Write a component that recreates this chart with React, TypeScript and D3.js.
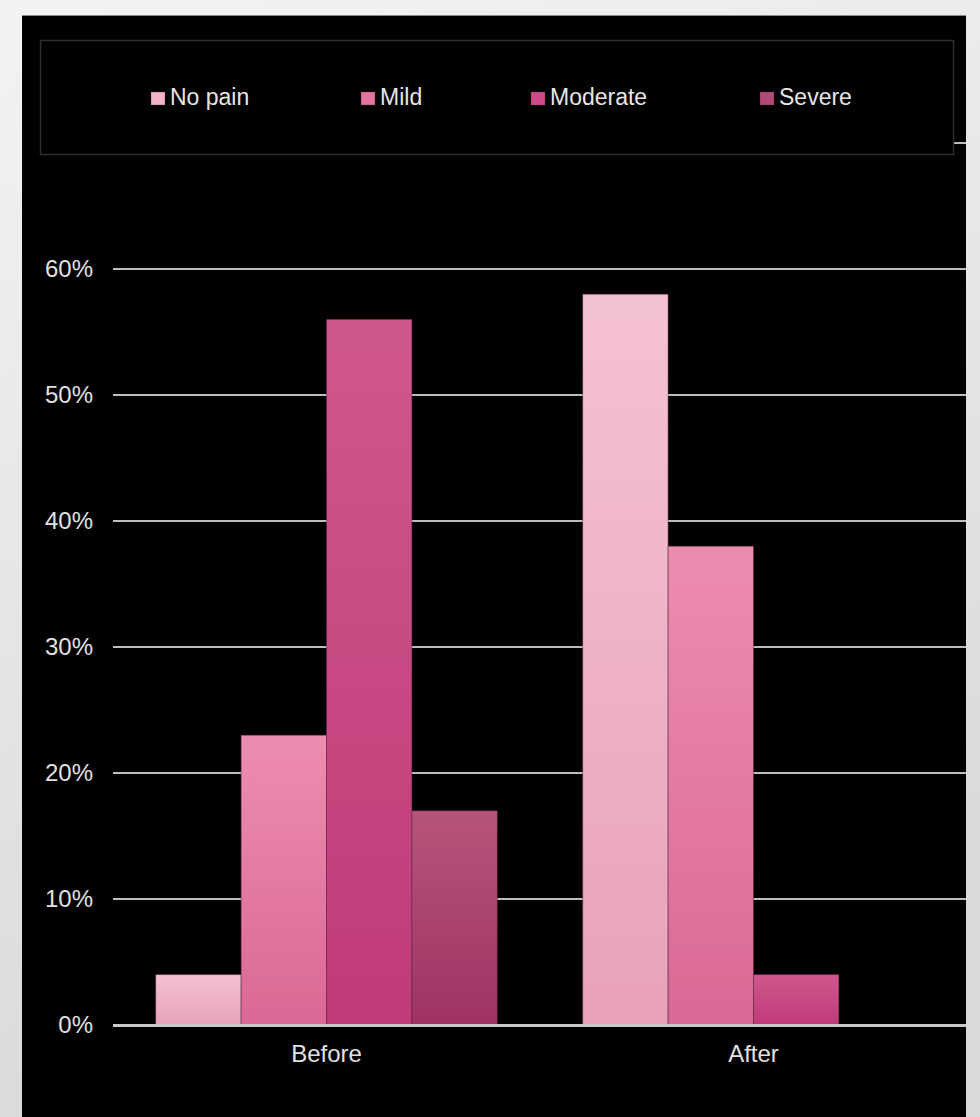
import React from "react";
import * as d3 from "d3";

const categories = ["Before", "After"];
const series = ["No pain", "Mild", "Moderate", "Severe"];
const values: number[][] = [
  [0.04, 0.23, 0.56, 0.17],
  [0.58, 0.38, 0.04, 0],
];
const yTicks = [0, 0.1, 0.2, 0.3, 0.4, 0.5, 0.6, 0.7];
const barTop = ["#f5c2d4", "#ec8db0", "#d0578e", "#b6557b"];
const barBottom = ["#e8a2b9", "#db6896", "#bf3b77", "#9e3264"];
const swatch = ["#f0b3c9", "#e2739f", "#cf4a88", "#b24a79"];

const W = 980;
const H = 1117;

export default function App() {
  const y = d3.scaleLinear().domain([0, 0.7]).range([1025, 143]);
  const x0 = d3.scaleBand().domain(categories).range([113, 967]).paddingInner(0).paddingOuter(0);
  const x1 = d3.scaleBand().domain(series).range([0, x0.bandwidth()]).paddingInner(0).paddingOuter(0.5);
  const font = "'Liberation Sans', Arial, sans-serif";
  const legendX = [151, 361, 531, 760];

  return (
    <svg width={W} height={H} style={{ position: "absolute", left: 0, top: 0 }} fontFamily={font}>
      <defs>
        <linearGradient id="bg" x1="0" y1="0" x2="0.3" y2="1">
          <stop offset="0" stopColor="#f3f3f3" />
          <stop offset="1" stopColor="#d9d9d9" />
        </linearGradient>
        {series.map((s, i) => (
          <linearGradient key={s} id={`g${i}`} x1="0" y1="0" x2="0" y2="1">
            <stop offset="0" stopColor={barTop[i]} />
            <stop offset="1" stopColor={barBottom[i]} />
          </linearGradient>
        ))}
        <clipPath id="plotclip">
          <rect x={22} y={15} width={944} height={H - 15} />
        </clipPath>
      </defs>
      <rect x={0} y={0} width={W} height={H} fill="url(#bg)" />
      <rect x={22} y={15} width={944} height={H - 15} fill="#000" />
      <line x1={22} x2={966} y1={15.5} y2={15.5} stroke="#8a8a8a" strokeWidth={1} />
      <g clipPath="url(#plotclip)">
        {yTicks.slice(1).map((t) => (
          <line key={t} x1={113} x2={980} y1={y(t)} y2={y(t)} stroke="#bdbdbd" strokeWidth={2} />
        ))}
        {categories.map((c, ci) => (
          <g key={c} transform={`translate(${x0(c)},0)`}>
            {series.map((s, si) =>
              values[ci][si] > 0 ? (
                <rect
                  key={s}
                  x={x1(s)}
                  y={y(values[ci][si])}
                  width={x1.bandwidth()}
                  height={y(0) - y(values[ci][si])}
                  fill={`url(#g${si})`}
                  stroke="#5a2a40"
                  strokeOpacity={0.5}
                  strokeWidth={1}
                />
              ) : null
            )}
          </g>
        ))}
        <line x1={113} x2={980} y1={y(0) + 0.5} y2={y(0) + 0.5} stroke="#c8c8c8" strokeWidth={3} />
      </g>
      {yTicks.slice(0, 7).map((t) => (
        <text key={t} x={93} y={y(t)} dy="0.35em" textAnchor="end" fontSize={24} fill="#e0e0e0">
          {`${Math.round(t * 100)}%`}
        </text>
      ))}
      {categories.map((c) => (
        <text key={c} x={(x0(c) as number) + x0.bandwidth() / 2} y={1062} textAnchor="middle" fontSize={24} fill="#e0e0e0">
          {c}
        </text>
      ))}
      <rect x={40.5} y={40.5} width={913} height={114} fill="#000" stroke="#2e2e2e" strokeWidth={1.5} />
      {series.map((s, i) => (
        <g key={s}>
          <rect x={legendX[i]} y={92} width={14} height={13} fill={swatch[i]} stroke="#5a2a40" strokeOpacity={0.4} strokeWidth={0.8} />
          <text x={legendX[i] + 19} y={105} fontSize={23} fill="#e6e6e6">
            {s}
          </text>
        </g>
      ))}
    </svg>
  );
}
